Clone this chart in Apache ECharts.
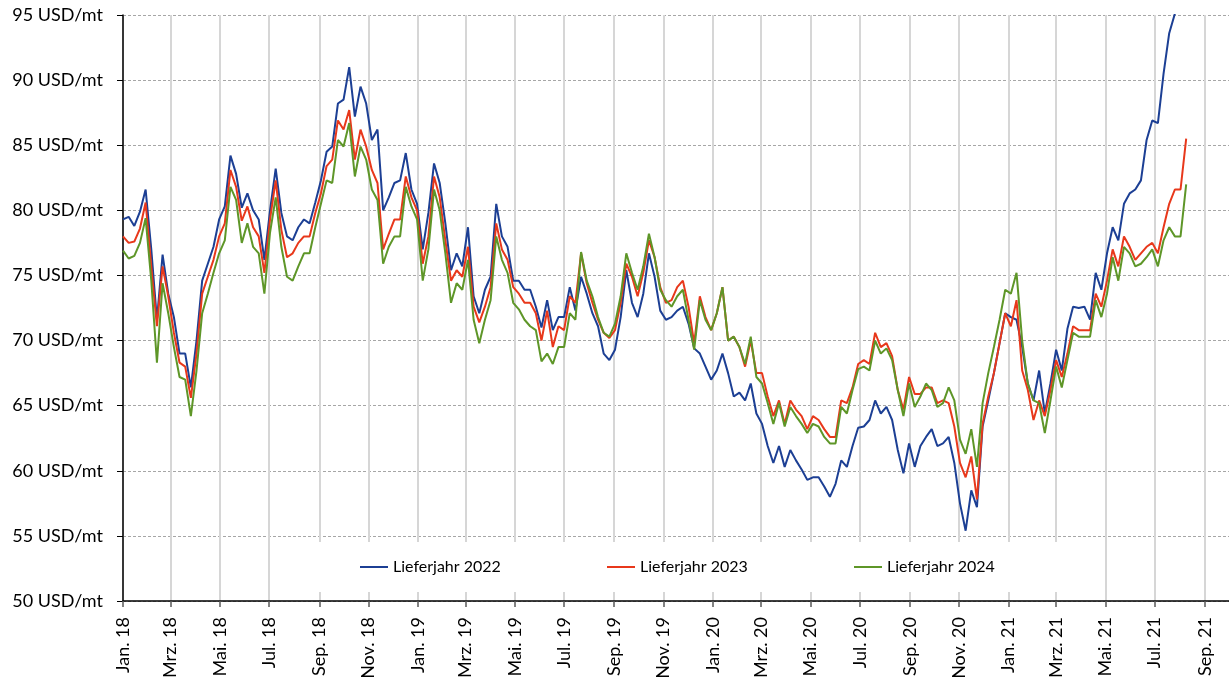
<!DOCTYPE html>
<html>
<head>
<meta charset="utf-8">
<script src="https://cdn.jsdelivr.net/npm/echarts@6/dist/echarts.min.js"></script>
<style>html,body{margin:0;padding:0;background:#fff}#c{width:1229px;height:682px}</style>
</head>
<body>
<div id="c"></div>
<script>
// weekly samples starting 2018-01-01
var startDate = [2018, 0, 1];
var stepDays = 7;

var tickDates = ['2018-01','2018-03','2018-05','2018-07','2018-09','2018-11',
  '2019-01','2019-03','2019-05','2019-07','2019-09','2019-11',
  '2020-01','2020-03','2020-05','2020-07','2020-09','2020-11',
  '2021-01','2021-03','2021-05','2021-07','2021-09'];
var tickLabels = ['Jan. 18','Mrz. 18','Mai. 18','Jul. 18','Sep. 18','Nov. 18',
  'Jan. 19','Mrz. 19','Mai. 19','Jul. 19','Sep. 19','Nov. 19',
  'Jan. 20','Mrz. 20','Mai. 20','Jul. 20','Sep. 20','Nov. 20',
  'Jan. 21','Mrz. 21','Mai. 21','Jul. 21','Sep. 21'];

var seriesNames = ['Lieferjahr 2022','Lieferjahr 2023','Lieferjahr 2024'];

var lj2022 = [
79.3,79.5,78.8,79.9,81.6,77.0,71.6,76.6,73.6,71.8,69.0,69.0,66.4,70.0,74.6,75.9,77.2,79.3,80.3,84.2,
82.8,80.2,81.3,80.0,79.3,76.2,80.0,83.2,79.8,78.0,77.7,78.7,79.3,79.0,80.6,82.3,84.5,84.9,88.2,88.5,
91.0,87.2,89.5,88.2,85.4,86.2,80.0,81.0,82.1,82.3,84.4,81.6,80.5,77.0,79.8,83.6,82.1,79.0,75.4,76.7,
75.7,78.7,73.4,72.1,73.9,74.9,80.5,78.0,77.2,74.6,74.6,73.9,73.9,72.6,71.0,73.1,70.8,71.8,71.8,74.1,
72.3,74.9,73.6,72.1,71.1,69.0,68.5,69.3,71.8,75.4,72.9,71.8,73.6,76.7,74.9,72.3,71.6,71.8,72.3,72.6,
71.3,69.4,69.0,68.0,67.0,67.7,69.0,67.5,65.7,66.0,65.4,66.7,64.4,63.6,61.9,60.6,61.9,60.3,61.6,60.8,
60.1,59.3,59.5,59.5,58.8,58.0,59.0,60.8,60.3,61.9,63.3,63.4,63.9,65.4,64.4,64.9,63.9,61.6,59.8,62.1,
60.3,61.9,62.6,63.2,61.9,62.1,62.6,60.6,57.5,55.4,58.5,57.2,63.4,65.4,67.5,69.8,72.1,71.8,71.6,69.5,
66.7,65.4,67.7,64.4,66.7,69.3,67.7,70.9,72.6,72.5,72.6,71.6,75.2,73.9,76.7,78.7,77.7,80.5,81.3,81.6,
82.3,85.4,86.9,86.7,90.5,93.6,95.1,97.0,99.0];

var lj2023 = [
78.0,77.5,77.6,78.6,80.6,75.7,71.1,75.7,73.4,70.6,68.3,68.0,65.6,69.0,73.6,74.9,76.2,78.0,79.0,83.1,
81.8,79.2,80.3,78.7,78.0,75.2,79.3,82.3,78.5,76.4,76.7,77.5,78.0,78.0,79.8,81.3,83.4,83.9,86.9,86.2,
87.7,83.9,86.2,84.9,83.1,82.1,77.0,78.2,79.3,79.3,82.6,81.0,80.0,75.9,78.0,82.6,81.0,77.7,74.6,75.4,
74.9,77.2,72.6,71.4,72.6,74.1,79.0,77.0,76.2,74.1,73.6,72.9,72.9,72.1,70.0,72.3,69.5,71.1,70.8,73.4,
72.9,76.7,74.4,72.9,71.6,70.6,70.2,70.8,72.9,75.9,74.9,73.4,75.2,77.7,76.4,74.1,72.9,73.1,74.1,74.6,
72.6,69.8,73.4,71.8,70.8,72.1,74.1,70.0,70.3,69.5,68.0,70.0,67.5,67.5,65.7,64.2,65.4,63.6,65.4,64.7,
64.2,63.2,64.2,63.9,63.2,62.6,62.6,65.4,65.2,66.4,68.2,68.5,68.2,70.6,69.5,69.8,68.8,66.2,64.7,67.2,
65.9,65.9,66.4,66.4,65.2,65.4,65.2,63.4,60.6,59.5,61.1,57.8,63.6,65.7,67.5,69.8,72.1,71.1,73.1,67.7,
66.2,63.9,65.4,64.2,66.2,68.5,67.2,69.0,71.1,70.8,70.8,70.8,73.6,72.6,74.6,77.0,75.7,78.0,77.2,76.2,
76.7,77.2,77.5,76.7,78.7,80.5,81.6,81.6,85.5];

var lj2024 = [
76.9,76.3,76.5,77.5,79.4,74.6,68.3,74.4,72.1,69.5,67.2,67.0,64.2,67.7,72.1,73.6,75.2,76.7,77.7,81.8,
80.8,77.5,79.0,77.2,76.7,73.6,78.3,81.0,77.2,74.9,74.6,75.7,76.7,76.7,78.7,80.5,82.3,82.1,85.4,84.9,
86.7,82.6,84.9,83.9,81.6,80.8,75.9,77.2,78.0,78.0,81.8,80.3,79.3,74.6,77.0,81.6,80.0,76.7,72.9,74.4,
73.9,76.2,71.6,69.8,71.6,73.1,78.0,76.2,75.2,72.9,72.4,71.6,71.1,70.8,68.4,69.0,68.2,69.5,69.5,72.1,
71.6,76.8,74.6,73.4,71.8,70.6,70.3,71.3,73.4,76.7,75.2,73.9,75.7,78.2,76.4,73.9,73.1,72.6,73.4,73.9,
71.6,69.3,73.1,71.6,70.8,72.1,74.1,70.0,70.3,69.5,68.2,70.3,67.2,66.7,65.2,63.6,65.2,63.4,64.9,64.2,
63.6,62.9,63.6,63.4,62.6,62.1,62.1,64.9,64.4,66.2,67.8,68.0,67.7,70.0,69.0,69.4,68.5,66.2,64.2,66.7,
64.9,65.7,66.7,66.2,64.9,65.2,66.4,65.4,62.4,61.3,63.2,60.3,65.2,67.5,69.5,71.6,73.9,73.6,75.2,70.0,
66.7,65.4,65.2,62.9,65.4,68.0,66.4,68.5,70.6,70.3,70.3,70.3,73.1,71.8,73.6,76.4,74.6,77.2,76.7,75.7,
75.9,76.4,77.0,75.7,77.7,78.7,78.0,78.0,82.0];

var colors = ['#1c3f94', '#e8381b', '#5e9628'];

var DAY = 86400000;
var origin = Date.UTC(2018, 0, 1);
function dayOf(y, m, d) { return Math.round((Date.UTC(y, m, d) - origin) / DAY); }
function sampleDay(i) { return dayOf(startDate[0], startDate[1], startDate[2] + i * stepDays); }
function monthDay(s) { var p = s.split('-'); return dayOf(+p[0], +p[1] - 1, 1); }
var tickDays = tickDates.map(monthDay);
function pairs(arr) { return arr.map(function (v, i) { return [sampleDay(i), v]; }); }

var chart = echarts.init(document.getElementById('c'), null, {renderer: 'canvas'});
var font = 'Lato';
chart.setOption({
  animation: false,
  color: colors,
  grid: {left: 123, right: 0, top: 15, bottom: 81, containLabel: false},
  legend: {
    data: seriesNames.map(function (n, i) { return {name: n, itemStyle: {color: colors[i]}}; }),
    icon: 'rect',
    left: 296, top: 542,
    padding: [15, 64, 15, 64],
    itemWidth: 28, itemHeight: 2, itemGap: 104,
    backgroundColor: '#ffffff',
    textStyle: {fontFamily: font, fontSize: 16, lineHeight: 20, color: '#000', width: 110}
  },
  xAxis: {
    type: 'value',
    min: 0,
    max: dayOf(2021, 9, 1),
    axisLine: {show: true, onZero: false, lineStyle: {color: '#000', width: 1.5}},
    axisTick: {show: true, length: 6, customValues: tickDays, lineStyle: {color: '#595959', width: 1.5}},
    axisLabel: {
      customValues: tickDays,
      rotate: 90, margin: 16,
      fontFamily: font, fontSize: 18, color: '#000',
      formatter: function (val) {
        var idx = tickDays.indexOf(Math.round(val));
        return idx >= 0 ? tickLabels[idx] : '';
      }
    },
    splitLine: {show: true, lineStyle: {color: '#d6d6d6', width: 2, type: 'solid'}}
  },
  yAxis: {
    type: 'value', min: 50, max: 95, interval: 5,
    axisLine: {show: true, lineStyle: {color: '#000', width: 1.5}},
    axisTick: {show: true, length: 6, lineStyle: {color: '#000'}},
    axisLabel: {margin: 20, fontFamily: font, fontSize: 18, color: '#000', formatter: '{value} USD/mt'},
    splitLine: {show: true, lineStyle: {color: '#a6a6a6', width: 1, type: [3, 2]}}
  },
  series: [
    {name: seriesNames[0], type: 'line', data: pairs(lj2022), symbol: 'none', showSymbol: false, clip: true, lineStyle: {width: 2, color: colors[0]}, itemStyle: {color: colors[0]}},
    {name: seriesNames[1], type: 'line', data: pairs(lj2023), symbol: 'none', showSymbol: false, clip: true, lineStyle: {width: 2, color: colors[1]}, itemStyle: {color: colors[1]}},
    {name: seriesNames[2], type: 'line', data: pairs(lj2024), symbol: 'none', showSymbol: false, clip: true, lineStyle: {width: 2, color: colors[2]}, itemStyle: {color: colors[2]}}
  ]
});
</script>
</body>
</html>
